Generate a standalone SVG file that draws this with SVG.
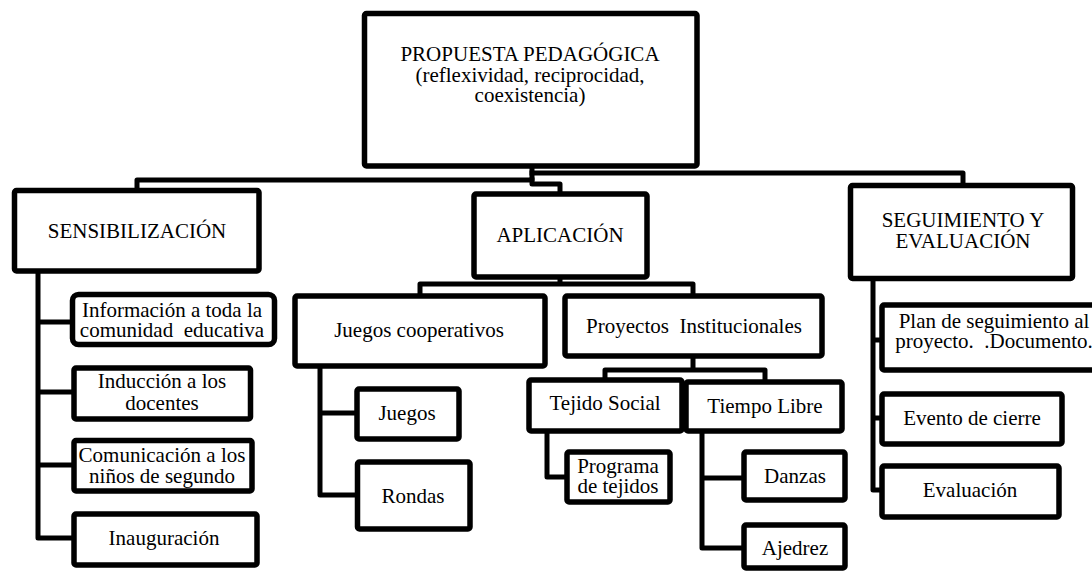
<svg xmlns="http://www.w3.org/2000/svg" width="1092" height="571" viewBox="0 0 1092 571">
<style>
.box{fill:#fff;stroke:#000;stroke-width:5.5;stroke-linejoin:round}
.con{fill:none;stroke:#000;stroke-width:5;stroke-linejoin:round;stroke-linecap:square}
text{font-family:"Liberation Serif","Times New Roman",serif;font-size:21px;fill:#000;text-anchor:middle}
.pre{white-space:pre}
</style>
<rect width="1092" height="571" fill="#fff"/>
<g id="connectors">
<path class="con" d="M532,166 V180 H137 V190"/>
<path class="con" d="M532,173 H963 V185"/>
<path class="con" d="M532,180 V184 H560 V194"/>
<path class="con" d="M38,271 V538 H74 M38,322 H72 M38,392 H74 M38,465 H74"/>
<path class="con" d="M560,277 V284 M420,296 V284 H693 V296"/>
<path class="con" d="M320,366 V495 H357 M320,413 H357"/>
<path class="con" d="M693,356 V370 M605,380 V370 H765 V382"/>
<path class="con" d="M547,431 V477 H567"/>
<path class="con" d="M702,431 V548 H744 M702,478 H744"/>
<path class="con" d="M873,278 V490 H882 M873,340 H882 M873,418 H882"/>
</g>
<g id="propuesta">
<rect class="box" x="364.5" y="13.5" width="332.5" height="152.5" rx="2"/>
<text x="530" y="61">PROPUESTA PEDAGÓGICA</text>
<text x="530" y="82">(reflexividad, reciprocidad,</text>
<text x="530" y="102">coexistencia)</text>
</g>
<g id="sensibilizacion">
<rect class="box" x="14.5" y="190.5" width="244.5" height="80.5" rx="2"/>
<text x="137" y="238">SENSIBILIZACIÓN</text>
</g>
<g id="aplicacion">
<rect class="box" x="474" y="194" width="173" height="83" rx="2"/>
<text x="560" y="242">APLICACIÓN</text>
</g>
<g id="seguimiento">
<rect class="box" x="850.5" y="185.5" width="222" height="93" rx="2"/>
<text x="963" y="227">SEGUIMIENTO Y</text>
<text x="963" y="248">EVALUACIÓN</text>
</g>
<g id="informacion">
<rect class="box" x="72.5" y="294.5" width="202" height="50" rx="6"/>
<text x="172" y="317">Información a toda la</text>
<text x="172" y="337" class="pre">comunidad  educativa</text>
</g>
<g id="induccion">
<rect class="box" x="74" y="368" width="176.5" height="51" rx="2"/>
<text x="162" y="388">Inducción a los</text>
<text x="162" y="410">docentes</text>
</g>
<g id="comunicacion">
<rect class="box" x="74" y="440.5" width="178" height="50.5" rx="2"/>
<text x="162" y="462">Comunicación a los</text>
<text x="162" y="483">niños de segundo</text>
</g>
<g id="inauguracion">
<rect class="box" x="74" y="514" width="183" height="51" rx="2"/>
<text x="164" y="545">Inauguración</text>
</g>
<g id="juegos-cooperativos">
<rect class="box" x="295" y="296" width="250" height="70" rx="2"/>
<text x="419" y="337">Juegos cooperativos</text>
</g>
<g id="proyectos">
<rect class="box" x="565" y="296" width="257" height="60" rx="2"/>
<text x="694" y="333" class="pre">Proyectos  Institucionales</text>
</g>
<g id="juegos">
<rect class="box" x="357" y="389" width="102" height="50" rx="2"/>
<text x="407" y="420">Juegos</text>
</g>
<g id="rondas">
<rect class="box" x="357.5" y="462" width="112.5" height="67" rx="2"/>
<text x="413" y="503">Rondas</text>
</g>
<g id="tejido-social">
<rect class="box" x="529" y="380" width="153" height="51" rx="2"/>
<text x="605" y="410">Tejido Social</text>
</g>
<g id="tiempo-libre">
<rect class="box" x="686" y="382" width="156" height="49" rx="2"/>
<text x="765" y="413">Tiempo Libre</text>
</g>
<g id="programa">
<rect class="box" x="567" y="452" width="103" height="50" rx="2"/>
<text x="618" y="473">Programa</text>
<text x="618" y="493">de tejidos</text>
</g>
<g id="danzas">
<rect class="box" x="744" y="452" width="101" height="48" rx="2"/>
<text x="795" y="483">Danzas</text>
</g>
<g id="ajedrez">
<rect class="box" x="744" y="525" width="101" height="43" rx="2"/>
<text x="795" y="555">Ajedrez</text>
</g>
<g id="plan">
<rect class="box" x="882" y="305" width="215" height="65" rx="2"/>
<text x="994" y="328">Plan de seguimiento al</text>
<text x="994" y="348" class="pre">proyecto.  .Documento.</text>
</g>
<g id="evento">
<rect class="box" x="882" y="394" width="180" height="50" rx="2"/>
<text x="972" y="425">Evento de cierre</text>
</g>
<g id="evaluacion">
<rect class="box" x="882" y="466" width="177" height="51" rx="2"/>
<text x="970" y="497">Evaluación</text>
</g>
</svg>
